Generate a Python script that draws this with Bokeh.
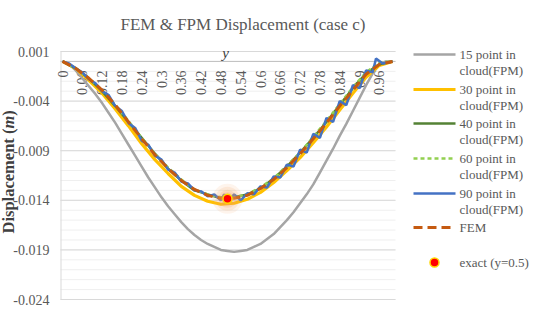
from math import pi
from bokeh.plotting import figure
from bokeh.models import Label
from bokeh.core.properties import value
from bokeh.embed import file_html
from bokeh.resources import INLINE

# ---------------- data ----------------
x_grid = [0.00, 0.04, 0.08, 0.12, 0.16, 0.20, 0.24, 0.28, 0.32, 0.36, 0.40, 0.44, 0.48,
          0.52, 0.56, 0.60, 0.64, 0.68, 0.72, 0.76, 0.80, 0.84, 0.88, 0.92, 0.96, 1.00]
x_15 = [0.00, 0.02, 0.04, 0.06, 0.08, 0.10, 0.12, 0.14, 0.16, 0.18, 0.20, 0.22, 0.24,
        0.26, 0.28, 0.30, 0.32, 0.34, 0.36, 0.38, 0.40, 0.42, 0.44, 0.46, 0.48, 0.50,
        0.52, 0.54, 0.56, 0.58, 0.60, 0.62, 0.64, 0.66, 0.68, 0.70, 0.72, 0.74, 0.76,
        0.78, 0.80, 0.82, 0.84, 0.86, 0.88, 0.90, 0.92, 0.94, 0.96, 0.98, 1.00]
disp_15 = [0, -0.0003, -0.0009, -0.0017, -0.0025, -0.0033, -0.0042, -0.0052, -0.0062,
           -0.0073, -0.0084, -0.0095, -0.0106, -0.0117, -0.0127, -0.0137, -0.0146, -0.0154,
           -0.0162, -0.0169, -0.0175, -0.0180, -0.0184, -0.0187, -0.0190, -0.0191, -0.0192,
           -0.0191, -0.0190, -0.0187, -0.0184, -0.0179, -0.0174, -0.0167, -0.0160, -0.0152,
           -0.0143, -0.0134, -0.0124, -0.0112, -0.0100, -0.0088, -0.0075, -0.0063, -0.0050,
           -0.0037, -0.0024, -0.0012, -0.0003, 0.0000, 0]
disp_30 = [0, -0.0007, -0.0019, -0.0032, -0.0048, -0.0065, -0.0083, -0.0099, -0.0113,
           -0.0126, -0.0135, -0.0141, -0.0144, -0.0143, -0.0139, -0.0132, -0.0122, -0.0110,
           -0.0097, -0.0082, -0.0066, -0.0049, -0.0032, -0.0016, -0.0004, 0]
disp_40 = [0, -0.0007, -0.0017, -0.0030, -0.0045, -0.0061, -0.0077, -0.0093, -0.0108,
           -0.0120, -0.0130, -0.0134, -0.0138, -0.0137, -0.0134, -0.0128, -0.0118, -0.0106,
           -0.0092, -0.0077, -0.0061, -0.0044, -0.0027, -0.0012, -0.0003, 0]
disp_60 = [0, -0.0007, -0.0017, -0.0029, -0.0044, -0.0060, -0.0077, -0.0093, -0.0107,
           -0.0119, -0.0129, -0.0134, -0.0137, -0.0137, -0.0134, -0.0127, -0.0118, -0.0105,
           -0.0092, -0.0076, -0.0060, -0.0043, -0.0026, -0.0011, -0.0001, 0]
disp_fem = [0, -0.0007, -0.0017, -0.0029, -0.0044, -0.0061, -0.0078, -0.0094, -0.0108,
            -0.0120, -0.0129, -0.0135, -0.0138, -0.0138, -0.0135, -0.0128, -0.0119, -0.0107,
            -0.0093, -0.0078, -0.0062, -0.0045, -0.0029, -0.0013, -0.0003, 0]
x_90 = [0.00, 0.02, 0.04, 0.06, 0.08, 0.10, 0.12, 0.14, 0.16, 0.18, 0.20, 0.22, 0.24,
        0.26, 0.28, 0.30, 0.32, 0.34, 0.36, 0.38, 0.40, 0.42, 0.44, 0.46, 0.48, 0.49,
        0.50, 0.52, 0.54, 0.56, 0.58, 0.60, 0.62, 0.64, 0.66, 0.68, 0.70, 0.72, 0.74,
        0.76, 0.78, 0.80, 0.82, 0.84, 0.86, 0.88, 0.90, 0.92, 0.94, 0.95, 0.97, 1.00]
disp_90 = [0, -0.0002, -0.0007, -0.0011, -0.0018, -0.0022, -0.0030, -0.0034, -0.0045,
           -0.0050, -0.0062, -0.0067, -0.0080, -0.0084, -0.0095, -0.0099, -0.0109, -0.0112,
           -0.0121, -0.0123, -0.0130, -0.0131, -0.0136, -0.0134, -0.0140, -0.0134, -0.0142,
           -0.0134, -0.0140, -0.0133, -0.0134, -0.0126, -0.0127, -0.0116, -0.0117, -0.0104,
           -0.0106, -0.0089, -0.0092, -0.0073, -0.0077, -0.0057, -0.0061, -0.0040, -0.0044,
           -0.0024, -0.0027, -0.0009, -0.0011, 0.0003, -0.0002, 0]
exact_x = [0.5]
exact_y = [-0.01385]

x_tick_labels = ["0", "0.06", "0.12", "0.18", "0.24", "0.3", "0.36", "0.42", "0.48",
                 "0.54", "0.6", "0.66", "0.72", "0.78", "0.84", "0.9", "0.96"]
y_ticks = [0.001, -0.004, -0.009, -0.014, -0.019, -0.024]
y_tick_labels = ["0.001", "-0.004", "-0.009", "-0.014", "-0.019", "-0.024"]
legend_texts = [["15 point in", "cloud(FPM)"], ["30 point in", "cloud(FPM)"],
                ["40 point in", "cloud(FPM)"], ["60 point in", "cloud(FPM)"],
                ["90 point in", "cloud(FPM)"], ["FEM"], ["exact (y=0.5)"]]
title_text = "FEM & FPM Displacement (case c)"

# ---------------- layout helpers (figure pixels -> data) ----------------
W, H = 534, 306
X0_PX, X_SCALE = 62, 330.0
Y_TOP_PX, Y_TOP, Y_SCALE = 51, 0.001, 9920.0


def dx(px):
    return (px - X0_PX) / X_SCALE


def dy(py):
    return Y_TOP - (py - Y_TOP_PX) / Y_SCALE


FONT = "Liberation Serif"
TXT = "#595959"

p = figure(width=W, height=H, output_backend="svg", toolbar_location=None,
           x_range=(dx(0), dx(W)), y_range=(dy(H), dy(0)),
           x_axis_location=None, y_axis_location=None,
           min_border_left=0, min_border_right=0, min_border_top=0, min_border_bottom=0)
p.outline_line_color = None
p.background_fill_color = "white"
p.border_fill_color = "white"
p.grid.visible = False

# gridlines (minor every 0.001, major at labelled ticks)
minor = [round(-0.024 + 0.001 * i, 3) for i in range(26)]
p.segment(x0=[dx(60)] * len(minor), y0=minor, x1=[dx(395)] * len(minor), y1=minor,
          line_color="#EFEFEF", line_width=1)
p.segment(x0=[dx(60)] * len(y_ticks), y0=y_ticks, x1=[dx(395)] * len(y_ticks), y1=y_ticks,
          line_color="#D9D9D9", line_width=1)
# axis lines
p.segment(x0=dx(60.5), y0=y_ticks[0], x1=dx(60.5), y1=y_ticks[-1], line_color="#D9D9D9", line_width=1)
p.segment(x0=dx(60), y0=0, x1=dx(395), y1=0, line_color="#BFBFBF", line_width=1)

# y tick labels
p.text(x=[dx(49)] * len(y_ticks), y=y_ticks, text=y_tick_labels, text_align="right",
       text_baseline="middle", text_font=value(FONT), text_font_size="14px", text_color=TXT)
# category labels (rotated)
p.text(x=[float(t) for t in x_tick_labels], y=[0] * len(x_tick_labels), text=x_tick_labels,
       angle=pi / 2, text_align="right", text_baseline="middle", y_offset=9,
       text_font=value(FONT), text_font_size="14px", text_color=TXT)

styles = [
    dict(line_color="#A5A5A5", line_width=2.5),
    dict(line_color="#FFC000", line_width=3.2),
    dict(line_color="#548235", line_width=2.5),
    dict(line_color="#92D050", line_width=2.5, line_dash="4 3"),
    dict(line_color="#4472C4", line_width=2.5),
    dict(line_color="#C55A11", line_width=3, line_dash="9 5"),
]

p.line(x_15, disp_15, **styles[0])
p.line(x_grid, disp_30, **styles[1])
p.line(x_grid, disp_40, **styles[2])
p.line(x_grid, disp_60, **styles[3])
p.line(x_90, disp_90, **styles[4])
p.line(x_grid, disp_fem, **styles[5])

# exact point with glow
for s, a in [(30, 0.12), (24, 0.15), (18, 0.2), (13, 0.25)]:
    p.scatter(exact_x, exact_y, size=s, fill_color="#F4A261", fill_alpha=a, line_color=None)
p.scatter(exact_x, exact_y, size=9, fill_color="#FF0000", line_color="#FFD700", line_width=1.5)

# legend
leg_y = [54, 89, 123, 158, 193, 227, 262]
for i, lines in enumerate(legend_texts):
    yy = leg_y[i]
    if i < 6:
        p.line([dx(413), dx(455)], [dy(yy), dy(yy)], **styles[i])
    else:
        p.scatter([dx(434)], [dy(yy)], size=9, fill_color="#FF0000", line_color="#FFD700", line_width=1.5)
    for k, t in enumerate(lines):
        p.add_layout(Label(x=dx(459), y=dy(yy + 15.5 * k), text=t, text_font=FONT,
                           text_font_size="13px", text_color=TXT, text_baseline="middle",
                           text_align="left"))

# title & axis titles
p.add_layout(Label(x=dx(242.5), y=dy(24), text=title_text, text_font=FONT, text_font_size="17px",
                   text_color=TXT, text_align="center", text_baseline="alphabetic"))
p.add_layout(Label(x=dx(225), y=dy(52), text="y", text_font=FONT, text_font_size="15px",
                   text_font_style="italic", text_color="#404040", text_align="center",
                   text_baseline="alphabetic"))
for t, ypx, style in [("Displacement (", 233, "bold"), ("m", 128.1, "bold italic"), (")", 115.3, "bold")]:
    p.add_layout(Label(x=dx(8), y=dy(ypx), text=t, angle=pi / 2, text_font=FONT,
                       text_font_size="16.5px", text_font_style=style, text_color="#404040",
                       text_align="left", text_baseline="middle"))

open("out.html", "w").write(file_html(p, INLINE))
